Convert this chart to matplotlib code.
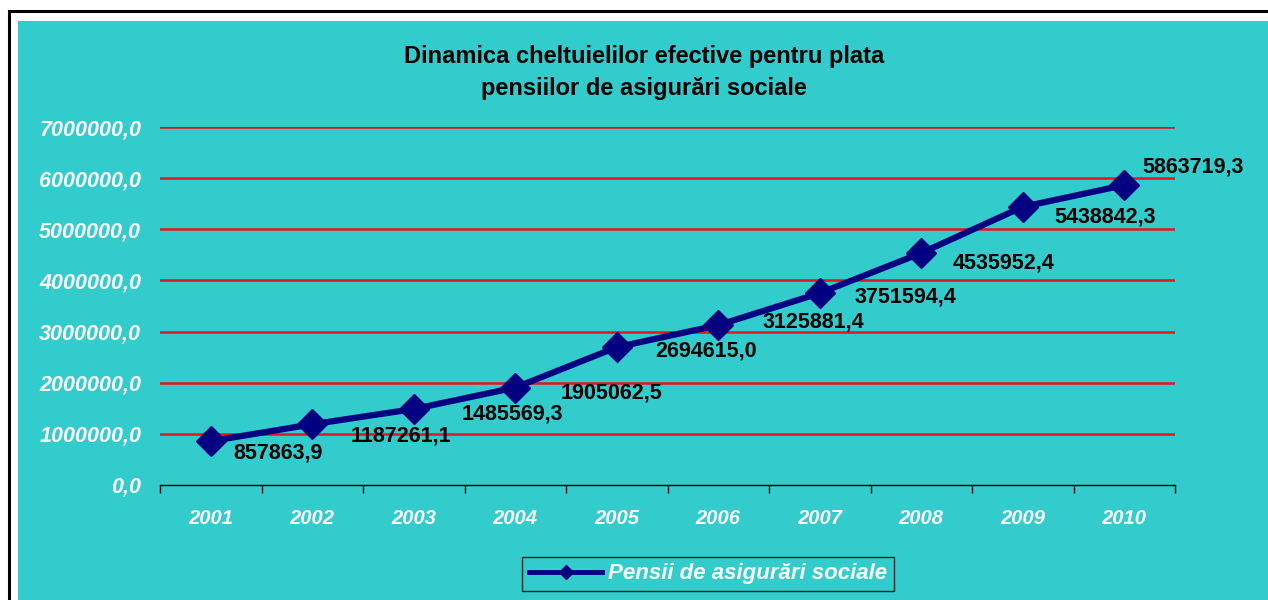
import matplotlib
matplotlib.use('Agg')
import matplotlib.pyplot as plt
from matplotlib.patches import Rectangle

years = ['2001', '2002', '2003', '2004', '2005', '2006', '2007', '2008', '2009', '2010']
pensii = [857863.9, 1187261.1, 1485569.3, 1905062.5, 2694615.0,
          3125881.4, 3751594.4, 4535952.4, 5438842.3, 5863719.3]
y_ticks = [0, 1000000, 2000000, 3000000, 4000000, 5000000, 6000000, 7000000]
series_name = 'Pensii de asigur\u0103ri sociale'
title = 'Dinamica cheltuielilor efective pentru plata\npensiilor de asigur\u0103ri sociale'

# where each value label sits relative to its point (pixels, x right / y down)
label_offsets = [(23, 12), (38, 12), (48, 5), (45, 5), (38, 4),
                 (44, -3), (35, 4), (31, 10), (32, 10), (18, -18)]

cyan = '#33CCCC'
navy = '#000080'
plt.rcParams['font.family'] = ['Liberation Sans', 'DejaVu Sans']

fig = plt.figure(figsize=(12.68, 6), dpi=100)
fig.patch.set_facecolor('white')
W, H = 1268, 600
# outer black frame and cyan chart area
fig.patches.append(Rectangle((9 / W, -0.1), 1.5, (H - 11) / H + 0.1, transform=fig.transFigure,
                             facecolor='none', edgecolor='black', linewidth=2.2, zorder=-2))
fig.patches.append(Rectangle((18 / W, -0.1), 1, (H - 21) / H + 0.1, transform=fig.transFigure,
                             facecolor=cyan, edgecolor='none', zorder=-1))

ax = fig.add_axes([160 / W, 1 - 485 / H, 1015 / W, 358 / H])
ax.set_facecolor('none')
x = list(range(len(years)))
line, = ax.plot(x, pensii, color=navy, linewidth=4.5, marker='D', markersize=15,
                markerfacecolor=navy, markeredgecolor=navy, label=series_name,
                solid_joinstyle='round', zorder=3)

for i, v in enumerate(pensii):
  dx, dy = label_offsets[i]
  ax.annotate(f'{v:.1f}'.replace('.', ','), (x[i], v), xytext=(dx * 0.72, -dy * 0.72),
              textcoords='offset points', ha='left', va='center',
              fontsize=15.5, fontweight='bold', color='black', zorder=4)

ax.set_xlim(-0.5, len(years) - 0.5)
ax.set_ylim(0, 7000000)
ax.set_yticks(y_ticks)
ax.set_yticklabels([f'{t:.1f}'.replace('.', ',') for t in y_ticks])
for t in y_ticks[1:]:
  ax.axhline(t, color='#E8141C', linewidth=1.8, zorder=1)

ax.set_xticks([i + 0.5 for i in range(-1, len(years))])
ax.set_xticklabels([])
ax.set_xticks(x, minor=True)
ax.set_xticklabels(years, minor=True)
ax.tick_params(axis='x', which='major', direction='out', length=6, width=1, color='black')
ax.tick_params(axis='x', which='minor', length=0, pad=17)
ax.tick_params(axis='y', length=0, pad=13.5)
for lab in ax.get_xticklabels(minor=True):
  lab.set_fontsize(14.5)
  lab.set_fontweight('bold')
  lab.set_fontstyle('italic')
  lab.set_color('white')
for lab in ax.get_yticklabels():
  lab.set_fontsize(15.5)
  lab.set_fontweight('bold')
  lab.set_fontstyle('italic')
  lab.set_color('white')

for s in ['left', 'right', 'top']:
  ax.spines[s].set_visible(False)
ax.spines['bottom'].set_color('black')
ax.spines['bottom'].set_linewidth(1)

fig.text(644 / W, 1 - 72 / H, title, ha='center', va='center', fontsize=17,
         fontweight='bold', color='black', linespacing=1.5)

leg = fig.legend(handles=[line], loc='center', bbox_to_anchor=(708 / W, 1 - 574 / H),
                 frameon=True, fancybox=False, facecolor=cyan, edgecolor='black',
                 markerscale=0.5, handlelength=3.3, handletextpad=0.25, borderpad=0.3,
                 prop={'size': 16, 'weight': 'bold', 'style': 'italic'})
leg.get_frame().set_linewidth(1)
leg.get_lines()[0].set_linewidth(3.5)
for t in leg.get_texts():
  t.set_color('white')

fig.savefig('out.png', dpi=100, facecolor=fig.get_facecolor())
